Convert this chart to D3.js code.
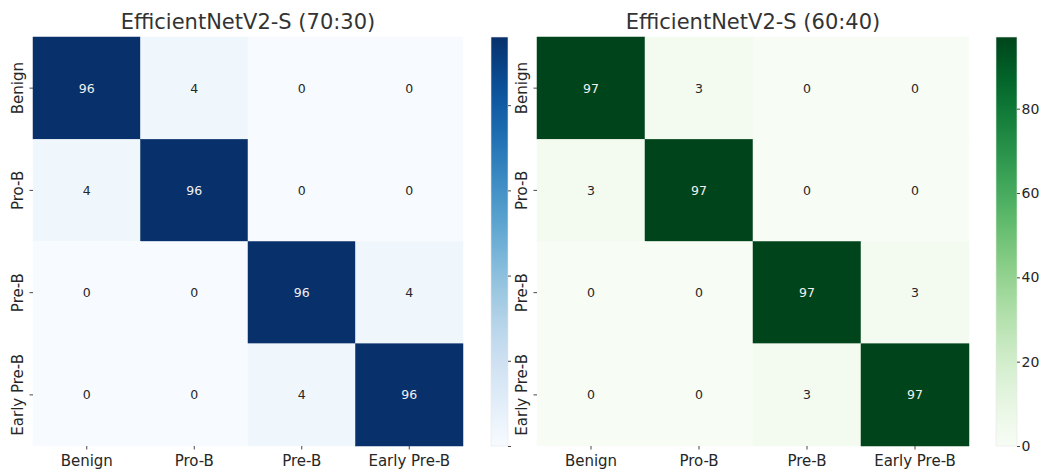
<!DOCTYPE html>
<html>
<head>
<meta charset="utf-8">
<script src="https://cdn.jsdelivr.net/npm/d3@7"></script>
<style>
  body { margin: 0; background: #fff; }
  text { font-family: "DejaVu Sans", sans-serif; }
</style>
</head>
<body>
<script>
var classes = ["Benign", "Pro-B", "Pre-B", "Early Pre-B"]
var titles = ["EfficientNetV2-S (70:30)", "EfficientNetV2-S (60:40)"]
var cm_7030 = [
    [96, 4, 0, 0],
    [4, 96, 0, 0],
    [0, 0, 96, 4],
    [0, 0, 4, 96]
]
var cm_6040 = [
    [97, 3, 0, 0],
    [3, 97, 0, 0],
    [0, 0, 97, 3],
    [0, 0, 3, 97]
]
var bar_ticks = [0, 20, 40, 60, 80]

const width = 1041
const height = 470
const plot_top = 37
const plot_bottom = 446

var svg = d3.select("body").append("svg").attr("width", width).attr("height", height)
var defs = svg.append("defs")

var panels = [
    { title: titles[0], data: cm_7030, cmap: d3.interpolateBlues, x0: 33, x1: 463, cb0: 491, cb1: 508, labels: false, id: "g1" },
    { title: titles[1], data: cm_6040, cmap: d3.interpolateGreens, x0: 537, x1: 969, cb0: 996, cb1: 1017, labels: true, id: "g2" }
]

panels.forEach(function (p) {
    var cells = []
    p.data.forEach((row, i) => row.forEach((v, j) => cells.push({ r: i, c: j, v: v })))
    var vmax = d3.max(cells, (d) => d.v)

    var x = d3.scaleBand().domain(classes).range([p.x0, p.x1])
    var y = d3.scaleBand().domain(classes).range([plot_top, plot_bottom])
    var color = d3.scaleSequential(p.cmap).domain([0, vmax])

    var g = svg.append("g")

    g.selectAll("rect").data(cells).enter().append("rect")
        .attr("x", (d) => x(classes[d.c]))
        .attr("y", (d) => y(classes[d.r]))
        .attr("width", x.bandwidth())
        .attr("height", y.bandwidth())
        .attr("fill", (d) => color(d.v))
        .attr("stroke", (d) => color(d.v))
        .attr("stroke-width", 0.5)

    g.selectAll("text.ann").data(cells).enter().append("text")
        .attr("class", "ann")
        .attr("x", (d) => x(classes[d.c]) + x.bandwidth() / 2)
        .attr("y", (d) => y(classes[d.r]) + y.bandwidth() / 2)
        .attr("text-anchor", "middle")
        .attr("dominant-baseline", "central")
        .attr("font-size", 12.5)
        .attr("fill", (d) => d.v > vmax / 2 ? "#f0f0f0" : "#262626")
        .text((d) => d.v)

    // x axis
    var xa = svg.append("g").attr("transform", "translate(0," + plot_bottom + ")")
        .call(d3.axisBottom(x).tickSize(3.5).tickPadding(6))
    // y axis
    var ya = svg.append("g").attr("transform", "translate(" + p.x0 + ",0)")
        .call(d3.axisLeft(y).tickSize(3.5).tickPadding(6))
    ya.selectAll(".tick text")
        .attr("transform", "rotate(-90)")
        .attr("text-anchor", "middle")
        .attr("x", 0)
        .attr("y", -10)
        .attr("dy", "0em")
    ;[xa, ya].forEach(function (a) {
        a.select(".domain").remove()
        a.selectAll(".tick line").attr("stroke", "#333").attr("stroke-width", 0.9)
        a.selectAll(".tick text").attr("font-size", 15).attr("fill", "#262626")
            .attr("font-family", "DejaVu Sans, sans-serif")
    })

    svg.append("text")
        .attr("x", (p.x0 + p.x1) / 2)
        .attr("y", 29)
        .attr("text-anchor", "middle")
        .attr("font-size", 21)
        .attr("fill", "#333")
        .text(p.title)

    // colorbar
    var grad = defs.append("linearGradient").attr("id", p.id)
        .attr("x1", 0).attr("y1", 1).attr("x2", 0).attr("y2", 0)
    d3.range(0, 1.0001, 0.05).forEach(function (t) {
        grad.append("stop").attr("offset", t).attr("stop-color", p.cmap(t))
    })
    svg.append("rect")
        .attr("x", p.cb0).attr("y", plot_top)
        .attr("width", p.cb1 - p.cb0).attr("height", plot_bottom - plot_top)
        .attr("fill", "url(#" + p.id + ")")
        .attr("stroke", "#e8e8e8").attr("stroke-width", 0.6)

    var cy = d3.scaleLinear().domain([0, vmax]).range([plot_bottom, plot_top])
    var ca = svg.append("g").attr("transform", "translate(" + p.cb1 + ",0)")
        .call(d3.axisRight(cy).tickValues(bar_ticks).tickSize(3).tickPadding(1.5))
    ca.select(".domain").remove()
    ca.selectAll(".tick line").attr("stroke", "#333").attr("stroke-width", 0.9)
    ca.selectAll(".tick text").attr("font-size", 14).attr("fill", "#262626")
        .attr("font-family", "DejaVu Sans, sans-serif")
    if (!p.labels) ca.selectAll(".tick text").remove()
})
</script>
</body>
</html>
